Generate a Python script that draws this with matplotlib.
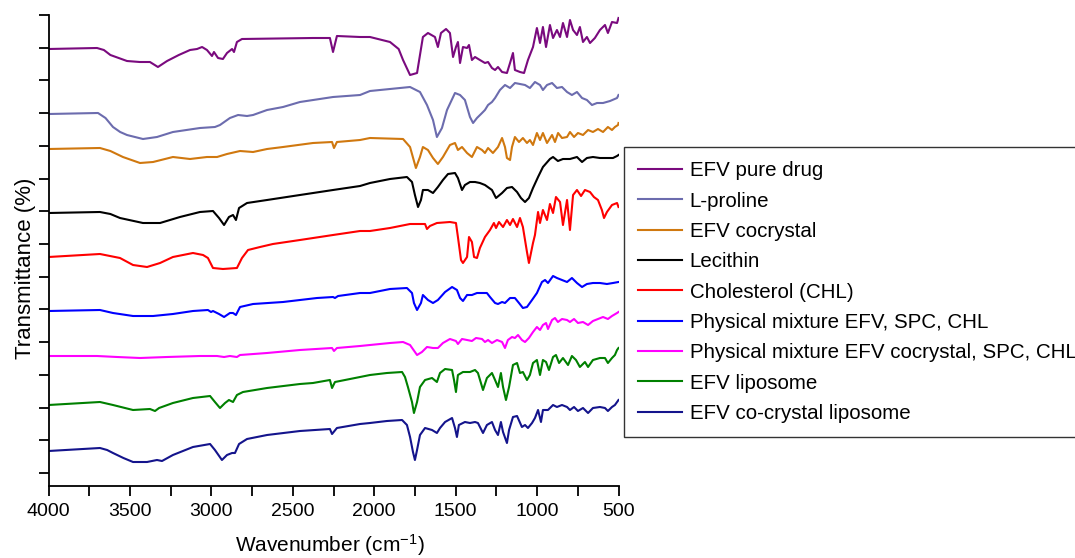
import numpy as np
import matplotlib
matplotlib.use('Agg')
from matplotlib import pyplot as plt

plt.rcParams['font.family'] = ['Liberation Sans', 'DejaVu Sans']
plt.rcParams['mathtext.fontset'] = 'custom'
plt.rcParams['mathtext.rm'] = 'Liberation Sans'
plt.rcParams['mathtext.it'] = 'Liberation Sans:italic'

# FTIR spectra, stacked (wavenumber in cm-1, transmittance in arbitrary stacked units)
efv_wn = [4000, 3702, 3660, 3620, 3518, 3440, 3377, 3328, 3272, 3200, 3131, 3088, 3057, 3027, 2996, 2984,
          2959, 2929, 2904, 2873, 2861, 2843, 2812, 2376, 2272, 2253, 2229, 2087, 2026, 1903, 1850, 1823,
          1780, 1737, 1701, 1670, 1627, 1609, 1590, 1559, 1535, 1516, 1498, 1486, 1473, 1455, 1430, 1418,
          1400, 1381, 1351, 1320, 1301, 1277, 1258, 1240, 1215, 1185, 1166, 1148, 1136, 1105, 1080, 1056,
          1025, 1001, 982, 964, 945, 921, 902, 878, 859, 841, 816, 798, 779, 755, 737, 718,
          694, 675, 645, 614, 583, 565, 540, 509, 500]
efv_t = [437, 438, 436, 431, 425, 424, 424, 419, 425, 431, 436, 437, 439, 436, 430, 434,
         428, 427, 433, 437, 434, 444, 447, 448, 448, 434, 450, 449, 449, 444, 437, 426,
         411, 413, 449, 453, 449, 439, 453, 457, 453, 429, 439, 444, 423, 439, 438, 441,
         426, 429, 426, 423, 424, 418, 416, 419, 414, 413, 423, 433, 416, 414, 413, 426,
         439, 458, 443, 459, 439, 461, 448, 456, 449, 463, 449, 466, 456, 451, 459, 444,
         449, 443, 448, 456, 461, 453, 464, 463, 468]

pro_wn = [4000, 3696, 3650, 3604, 3560, 3518, 3420, 3334, 3236, 3070, 2978, 2947, 2886, 2836, 2781, 2744,
          2658, 2560, 2456, 2253, 2087, 2026, 1903, 1780, 1719, 1676, 1639, 1615, 1584, 1553, 1504, 1473,
          1443, 1412, 1393, 1369, 1338, 1320, 1301, 1277, 1258, 1228, 1197, 1166, 1136, 1105, 1074, 1044,
          1013, 982, 964, 939, 908, 878, 847, 816, 786, 755, 724, 694, 663, 632, 595, 552,
          509, 500]
pro_t = [372, 373, 368, 359, 354, 351, 347, 349, 354, 358, 359, 361, 368, 371, 370, 371,
         376, 379, 384, 389, 391, 395, 397, 399, 394, 381, 366, 349, 358, 376, 393, 391,
         386, 369, 363, 368, 373, 376, 381, 384, 388, 396, 401, 398, 403, 402, 401, 398,
         404, 401, 396, 401, 403, 398, 399, 394, 391, 394, 388, 386, 381, 383, 383, 385,
         388, 391]

coc_wn = [4000, 3684, 3620, 3543, 3438, 3358, 3236, 3131, 3027, 2965, 2904, 2824, 2744, 2658, 2560, 2376,
          2259, 2247, 2229, 2087, 2026, 1823, 1780, 1744, 1719, 1701, 1670, 1639, 1609, 1578, 1535, 1504,
          1486, 1461, 1430, 1400, 1369, 1338, 1320, 1301, 1271, 1240, 1215, 1197, 1185, 1166, 1154, 1136,
          1111, 1087, 1062, 1044, 1025, 1001, 982, 964, 939, 908, 890, 871, 847, 816, 798, 773,
          749, 718, 687, 657, 626, 595, 565, 540, 522, 503, 500]
coc_t = [337, 338, 335, 329, 323, 324, 329, 327, 329, 329, 332, 335, 334, 337, 339, 343,
         344, 338, 344, 346, 348, 347, 339, 318, 329, 339, 336, 328, 322, 329, 341, 343,
         336, 339, 333, 329, 339, 336, 333, 338, 333, 339, 348, 339, 328, 326, 339, 349,
         344, 348, 343, 346, 341, 353, 346, 353, 343, 351, 344, 353, 348, 349, 354, 349,
         353, 351, 356, 354, 357, 354, 359, 356, 359, 361, 363]

lec_wn = [4000, 3684, 3620, 3561, 3420, 3315, 3193, 3070, 2990, 2953, 2922, 2892, 2867, 2849, 2830, 2781,
          2658, 2456, 2253, 2087, 2026, 1903, 1799, 1768, 1750, 1731, 1713, 1701, 1670, 1639, 1609, 1578,
          1547, 1504, 1486, 1461, 1443, 1412, 1381, 1351, 1320, 1277, 1252, 1215, 1185, 1154, 1123, 1099,
          1074, 1050, 1025, 994, 964, 921, 902, 872, 841, 798, 755, 724, 694, 657, 614, 571,
          534, 509, 500]
lec_t = [273, 274, 272, 268, 263, 263, 269, 274, 275, 268, 261, 269, 271, 266, 278, 283,
         286, 291, 296, 300, 303, 307, 309, 304, 291, 279, 286, 296, 296, 293, 299, 306,
         312, 313, 308, 296, 301, 304, 304, 303, 301, 296, 288, 293, 298, 299, 294, 288,
         284, 288, 298, 309, 319, 327, 329, 325, 327, 327, 329, 324, 328, 329, 328, 328,
         328, 330, 331]

chl_wn = [4000, 3684, 3561, 3481, 3395, 3315, 3236, 3113, 3051, 3021, 2990, 2929, 2843, 2812, 2775, 2701,
          2622, 2456, 2253, 2087, 2026, 1903, 1780, 1688, 1676, 1658, 1615, 1535, 1498, 1486, 1467, 1455,
          1430, 1418, 1400, 1387, 1369, 1351, 1320, 1289, 1265, 1252, 1234, 1209, 1185, 1166, 1148, 1123,
          1105, 1087, 1062, 1050, 1025, 1013, 994, 982, 964, 939, 921, 902, 884, 859, 841, 816,
          798, 779, 755, 730, 706, 675, 651, 626, 602, 589, 571, 540, 509, 500]
chl_t = [229, 232, 228, 221, 219, 223, 229, 233, 231, 228, 218, 217, 218, 228, 236, 239,
         242, 246, 251, 255, 255, 258, 262, 262, 257, 260, 263, 264, 263, 249, 226, 223,
         229, 249, 244, 229, 228, 238, 249, 256, 263, 258, 264, 259, 266, 261, 267, 259,
         268, 259, 234, 223, 243, 251, 274, 263, 276, 266, 282, 273, 289, 284, 261, 286,
         256, 291, 296, 290, 296, 294, 289, 286, 276, 268, 274, 281, 283, 279]

pm1_wn = [4000, 3684, 3604, 3481, 3358, 3236, 3113, 3021, 3002, 2990, 2953, 2922, 2886, 2867, 2849, 2824,
          2744, 2560, 2351, 2253, 2241, 2222, 2087, 2026, 1903, 1799, 1768, 1756, 1737, 1713, 1701, 1670,
          1639, 1609, 1565, 1522, 1492, 1473, 1455, 1430, 1400, 1369, 1338, 1308, 1289, 1258, 1240, 1215,
          1197, 1166, 1136, 1111, 1087, 1062, 1031, 1001, 970, 951, 933, 902, 878, 847, 816, 786,
          755, 724, 694, 657, 614, 571, 534, 500]
pm1_t = [175, 176, 173, 170, 170, 172, 175, 176, 174, 175, 172, 169, 173, 173, 171, 179,
         182, 184, 188, 189, 188, 190, 193, 193, 197, 198, 193, 183, 176, 183, 191, 186,
         183, 186, 194, 199, 196, 188, 185, 191, 191, 193, 193, 193, 189, 183, 182, 184,
         183, 188, 188, 183, 178, 179, 186, 193, 204, 206, 203, 210, 208, 206, 204, 208,
         203, 199, 202, 203, 203, 202, 203, 204]

pm2_wn = [4000, 3702, 3579, 3438, 3272, 3070, 2965, 2922, 2886, 2843, 2824, 2658, 2456, 2259, 2247, 2229,
          2087, 2026, 1903, 1823, 1780, 1737, 1707, 1676, 1639, 1609, 1578, 1535, 1498, 1486, 1461, 1430,
          1400, 1375, 1338, 1320, 1301, 1277, 1246, 1215, 1197, 1179, 1154, 1136, 1117, 1093, 1074, 1050,
          1025, 1001, 982, 964, 945, 933, 908, 890, 872, 847, 816, 798, 773, 749, 718, 687,
          657, 626, 595, 565, 540, 509, 500]
pm2_t = [130, 130, 129, 128, 129, 130, 130, 129, 130, 129, 131, 133, 136, 138, 135, 138,
         140, 141, 143, 144, 141, 131, 134, 139, 138, 138, 143, 147, 145, 142, 147, 146,
         145, 148, 147, 144, 146, 143, 146, 144, 138, 146, 149, 148, 151, 146, 144, 148,
         154, 159, 156, 161, 163, 157, 166, 168, 164, 167, 166, 164, 167, 163, 164, 161,
         165, 167, 169, 167, 170, 173, 174]

lip_wn = [4000, 3684, 3604, 3481, 3377, 3346, 3321, 3236, 3113, 3008, 2978, 2947, 2916, 2892, 2867, 2843,
          2806, 2658, 2456, 2376, 2272, 2259, 2241, 2087, 2026, 1922, 1829, 1811, 1793, 1768, 1756, 1737,
          1719, 1688, 1645, 1615, 1596, 1565, 1522, 1510, 1498, 1486, 1455, 1412, 1381, 1363, 1332, 1308,
          1277, 1258, 1240, 1222, 1209, 1191, 1172, 1148, 1123, 1105, 1087, 1062, 1044, 1025, 1001, 982,
          964, 945, 927, 902, 884, 865, 841, 810, 786, 761, 737, 706, 687, 657, 614, 583,
          565, 540, 522, 509, 500]
lip_t = [81, 84, 81, 76, 77, 75, 78, 83, 88, 90, 84, 78, 83, 86, 84, 91,
         94, 98, 102, 103, 106, 98, 104, 109, 111, 113, 114, 109, 99, 84, 73, 84,
         99, 106, 108, 104, 113, 117, 116, 106, 94, 111, 114, 114, 116, 113, 96, 108,
         113, 106, 99, 113, 99, 86, 99, 121, 123, 113, 114, 106, 111, 123, 126, 111,
         126, 124, 116, 129, 131, 123, 128, 121, 130, 126, 119, 124, 119, 126, 128, 128,
         123, 128, 131, 136, 138]

cl_wn = [4000, 3684, 3640, 3604, 3540, 3481, 3395, 3334, 3303, 3236, 3113, 3008, 2978, 2935, 2904, 2873,
         2855, 2830, 2781, 2658, 2456, 2272, 2259, 2229, 2087, 2026, 1922, 1829, 1799, 1780, 1762, 1750,
         1737, 1719, 1688, 1645, 1615, 1596, 1565, 1522, 1504, 1492, 1480, 1443, 1412, 1381, 1363, 1332,
         1308, 1277, 1258, 1240, 1222, 1209, 1185, 1172, 1148, 1123, 1093, 1074, 1056, 1031, 1013, 994,
         976, 964, 933, 902, 878, 847, 816, 798, 773, 749, 718, 687, 657, 614, 583, 565,
         540, 522, 500]
cl_t = [35, 38, 36, 33, 28, 24, 24, 26, 25, 31, 39, 42, 36, 26, 31, 33,
        33, 42, 47, 51, 55, 57, 52, 58, 62, 63, 65, 66, 61, 49, 34, 26,
        36, 51, 58, 56, 53, 58, 64, 68, 58, 49, 61, 64, 63, 64, 63, 53,
        61, 64, 56, 51, 64, 54, 43, 56, 69, 70, 59, 61, 58, 63, 68, 76,
        64, 76, 76, 81, 79, 81, 79, 76, 79, 75, 78, 73, 78, 79, 78, 75,
        79, 81, 86]

series_wn = [efv_wn, pro_wn, coc_wn, lec_wn, chl_wn, pm1_wn, pm2_wn, lip_wn, cl_wn]
series_t = [efv_t, pro_t, coc_t, lec_t, chl_t, pm1_t, pm2_t, lip_t, cl_t]
labels = ['EFV pure drug', 'L-proline', 'EFV cocrystal', 'Lecithin', 'Cholesterol (CHL)',
          'Physical mixture EFV, SPC, CHL', 'Physical mixture EFV cocrystal, SPC, CHL',
          'EFV liposome', 'EFV co-crystal liposome']
colors = ['#7a0a7e', '#6c6cae', '#d0780f', '#000000', '#ff0000',
          '#0000ff', '#ff00ff', '#008000', '#14148c']

fig = plt.figure(figsize=(10.75, 5.58), dpi=100)
ax = fig.add_axes([48.5 / 1075, 72 / 558, 570 / 1075, 471 / 558])

for wn, t, c, lab in zip(series_wn, series_t, colors, labels):
    ax.plot(wn, t, color=c, lw=1.5, label=lab, solid_joinstyle='round')

ax.set_xlim(4000, 500)
ax.set_ylim(0, 471)
ax.set_xticks(np.arange(4000, 499, -500))
ax.set_xticks(np.arange(3750, 500, -500), minor=True)
ax.set_yticks(np.linspace(13, 471, 15))
ax.set_yticklabels([])
for s in ['top', 'right']:
    ax.spines[s].set_visible(False)
for s in ['left', 'bottom']:
    ax.spines[s].set_linewidth(1.3)
ax.tick_params(which='both', direction='out', length=7, width=1.3, labelsize=14, pad=5)

ax.set_xlabel('Wavenumber (cm$^{-1}$)', fontsize=15)
ax.set_ylabel('Transmittance (%)', fontsize=16)
ax.xaxis.set_label_coords(0.494, -0.097)
ax.yaxis.set_label_coords(-0.022, 0.463)

leg = ax.legend(loc='upper left', bbox_to_anchor=(624 / 1075, 1 - 147 / 558),
                bbox_transform=fig.transFigure, fontsize=14.8, frameon=True,
                fancybox=False, framealpha=1, edgecolor='#333333', borderaxespad=0,
                borderpad=0.7, handlelength=2.1, handletextpad=0.4, labelspacing=0.55)
leg.get_frame().set_linewidth(1.0)

fig.savefig('out.png', dpi=100)
